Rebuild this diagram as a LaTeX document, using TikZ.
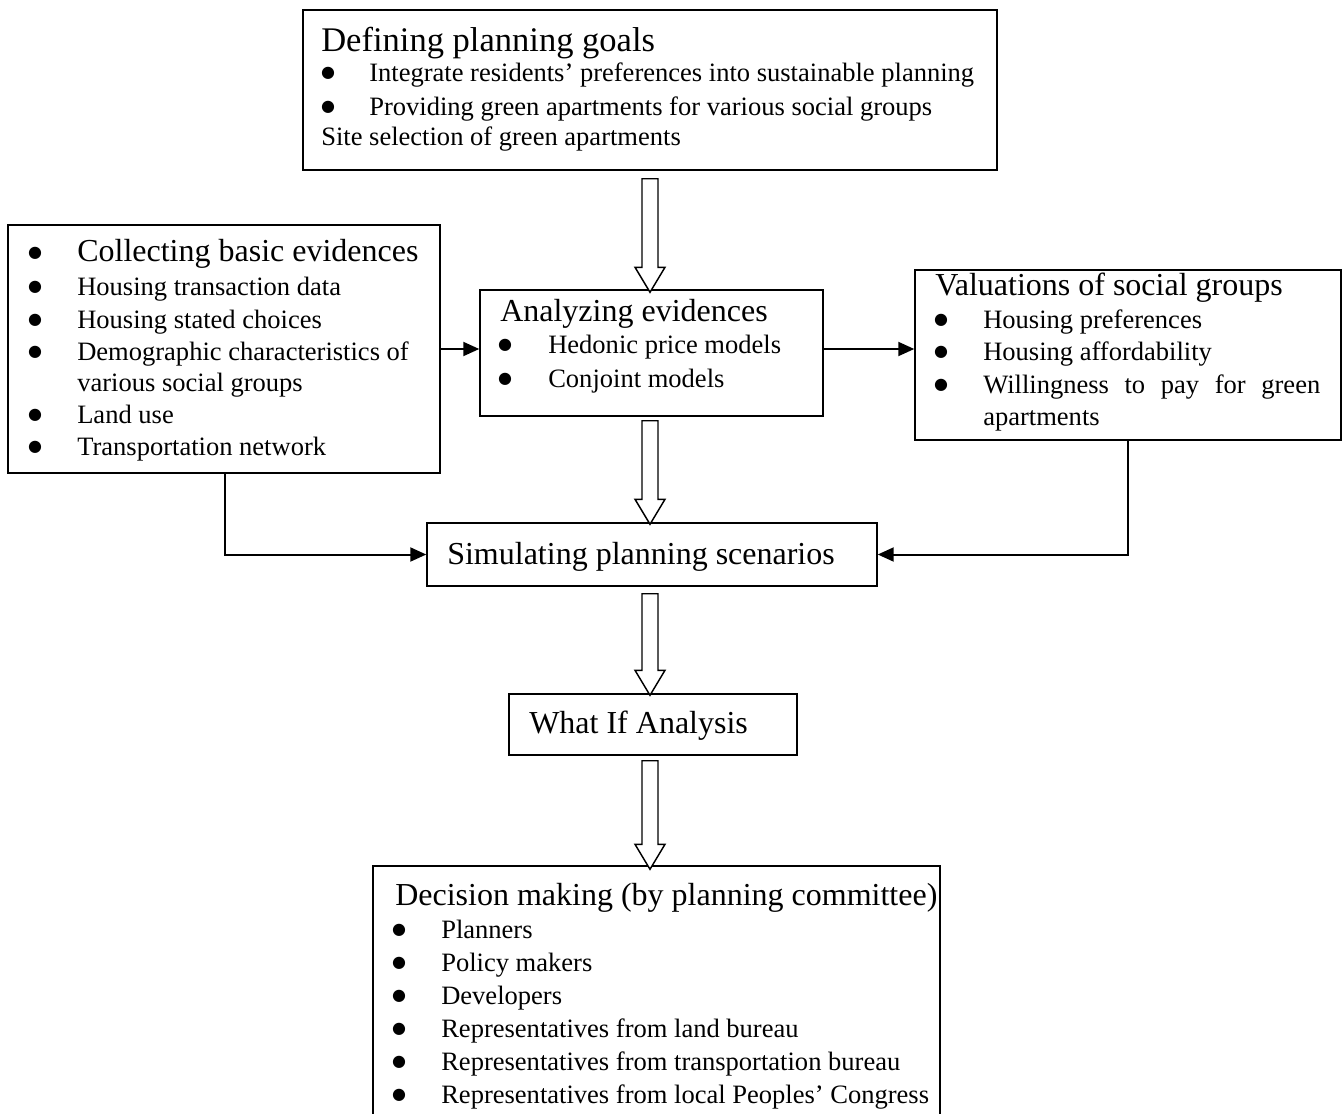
\documentclass[tikz,border=0pt]{standalone}
\usepackage{fontspec}
\setmainfont{Liberation Serif}
\newfontfamily\dejavu{DejaVu Sans}
\usetikzlibrary{arrows.meta,calc,fit}
\newcommand\bodyf{\fontsize{19.9pt}{24pt}\selectfont}
\newcommand\ttlf{\fontsize{24pt}{28pt}\selectfont}
\newcommand\bigttlf{\fontsize{25.9pt}{30pt}\selectfont}
\newcommand\bigbul{\raisebox{2.4pt}{\dejavu\fontsize{12pt}{13pt}\selectfont ●}}
\tikzset{
  box/.style={draw, line width=1.1pt, inner sep=0pt, rectangle},
  txt/.style={anchor=base west, inner sep=0pt, font=\bodyf},
  ttl/.style={anchor=base west, inner sep=0pt, font=\ttlf},
  bul/.style={anchor=base, inner sep=0pt},
  conn/.style={line width=1.5pt, -{Triangle[length=12pt,width=10.5pt]}},
  barrow/.style={draw, line width=1.1pt, fill=white, line join=miter}
}
\newcommand\blockarr[2]{%
  \draw[barrow] let \p1=(#1), \p2=(#2) in
    (\x1-6pt,\y1) -- (\x1+6pt,\y1) -- (\x1+6pt,\y2+18.75pt) -- (\x1+11.25pt,\y2+18.75pt)
    -- (\x1,\y2) -- (\x1-11.25pt,\y2+18.75pt) -- (\x1-6pt,\y2+18.75pt) -- cycle;}
\begin{document}
\begin{tikzpicture}[x=0.75pt,y=-0.75pt]
\useasboundingbox (0,0) rectangle (1344,1113);
\clip (0,0) rectangle (1344,1113);
% boxes
\node[box, fit={(303,10)(997,170)}] (top) {};
\node[box, fit={(8,225)(440,473)}] (left) {};
\node[box, fit={(480,290)(823,416)}] (ana) {};
\node[box, fit={(915,270)(1341,440)}] (right) {};
\node[box, fit={(427,523)(877,586)}] (sim) {};
\node[box, fit={(509,694)(797,755)}] (whatif) {};
\node[box, fit={(373,866)(940,1130)}] (dec) {};
% top box text
\node[ttl, font=\bigttlf] (t0) at (321,51) {Defining planning goals};
\node[bul] (tb1) at (328,81) {\bigbul};
\node[txt] (t1) at (369,81) {Integrate residents’ preferences into sustainable planning};
\node[bul] (tb2) at (328,115) {\bigbul};
\node[txt] (t2) at (369,115) {Providing green apartments for various social groups};
\node[txt] (t3) at (321,145) {Site selection of green apartments};
% left box text
\node[bul] (lb0) at (35,261) {\bigbul};
\node[ttl] (l0) at (77,261) {Collecting basic evidences};
\node[bul] (lb1) at (35,295) {\bigbul};
\node[txt] (l1) at (77,295) {Housing transaction data};
\node[bul] (lb2) at (35,328) {\bigbul};
\node[txt] (l2) at (77,328) {Housing stated choices};
\node[bul] (lb3) at (35,360) {\bigbul};
\node[txt] (l3) at (77,360) {Demographic characteristics of};
\node[txt] (l4) at (77,391) {various social groups};
\node[bul] (lb5) at (35,423) {\bigbul};
\node[txt] (l5) at (77,423) {Land use};
\node[bul] (lb6) at (35,455) {\bigbul};
\node[txt] (l6) at (77,455) {Transportation network};
% analyzing text
\node[ttl] (a0) at (500,321) {Analyzing evidences};
\node[bul] (ab1) at (505,353) {\bigbul};
\node[txt] (a1) at (548,353) {Hedonic price models};
\node[bul] (ab2) at (505,387) {\bigbul};
\node[txt] (a2) at (548,387) {Conjoint models};
% right box text
\node[ttl] (r0) at (935,295) {Valuations of social groups};
\node[bul] (rb1) at (941,328) {\bigbul};
\node[txt] (r1) at (983,328) {Housing preferences};
\node[bul] (rb2) at (941,360) {\bigbul};
\node[txt] (r2) at (983,360) {Housing affordability};
\node[bul] (rb3) at (941,393) {\bigbul};
\node[txt] (r3) at (983,393) {\makebox[252.75pt][s]{Willingness to pay for green}};
\node[txt] (r4) at (983,425) {apartments};
% simulating / what if
\node[ttl] (s0) at (447,564) {Simulating planning scenarios};
\node[ttl] (w0) at (529,733) {What If Analysis};
% decision text
\node[ttl] (d0) at (395,905) {Decision making (by planning committee)};
\node[bul] (db1) at (399,938) {\bigbul};
\node[txt] (d1) at (441,938) {Planners};
\node[bul] (db2) at (399,971) {\bigbul};
\node[txt] (d2) at (441,971) {Policy makers};
\node[bul] (db3) at (399,1004) {\bigbul};
\node[txt] (d3) at (441,1004) {Developers};
\node[bul] (db4) at (399,1037) {\bigbul};
\node[txt] (d4) at (441,1037) {Representatives from land bureau};
\node[bul] (db5) at (399,1070) {\bigbul};
\node[txt] (d5) at (441,1070) {Representatives from transportation bureau};
\node[bul] (db6) at (399,1103) {\bigbul};
\node[txt] (d6) at (441,1103) {Representatives from local Peoples’ Congress};
% block arrows
\coordinate (a1s) at ($(top.south)+(0,8)$);
\coordinate (a1e) at ($(ana.north)+(0,3)$);
\blockarr{a1s}{a1e}
\coordinate (a2s) at ($(ana.south)+(-1.5,4)$);
\coordinate (a2e) at ($(sim.north)+(0,2)$);
\blockarr{a2s}{a2e}
\coordinate (a3s) at ($(sim.south)+(-2,7)$);
\coordinate (a3e) at ($(whatif.north)+(0,2)$);
\blockarr{a3s}{a3e}
\coordinate (a4s) at ($(whatif.south)+(-3,5)$);
\coordinate (a4e) at ($(dec.north)+(0,4)$);
\blockarr{a4s}{a4e}
% line connectors
\coordinate (lev) at (0,349);
\draw[conn] (left.east |- lev) -- (ana.west |- lev);
\draw[conn] (ana.east |- lev) -- (right.west |- lev);
\coordinate (lx) at (225,0);
\coordinate (rx) at (1128,0);
\draw[conn] (left.south -| lx) |- (sim.west);
\draw[conn] (right.south -| rx) |- (sim.east);
\end{tikzpicture}
\end{document}
